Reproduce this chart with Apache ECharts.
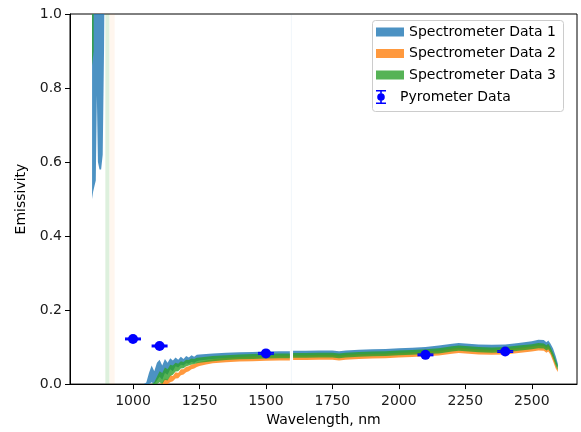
<!DOCTYPE html>
<html>
<head>
<meta charset="utf-8">
<script src="https://cdn.jsdelivr.net/npm/echarts@6/dist/echarts.min.js"></script>
<style>
  html, body { margin: 0; padding: 0; background: #ffffff; }
  #chart { width: 581px; height: 432px; }
</style>
</head>
<body>
<div id="chart"></div>
<script>
// Wavelength grid (nm) shared by the three spectrometer bands; null marks the detector gap.
const wavelength = [
  1040, 1050, 1060, 1070, 1080, 1090, 1100, 1110, 1120, 1130,
  1140, 1150, 1160, 1170, 1180, 1190, 1200, 1210, 1220, 1230,
  1240, 1250, 1275, 1300, 1350, 1400, 1450, 1500, 1550, 1590,
  1596, 1602, 1650, 1700, 1750, 1775, 1800, 1850, 1900, 1950,
  2000, 2050, 2100, 2150, 2200, 2225, 2250, 2300, 2350, 2400,
  2450, 2500, 2525, 2545, 2555, 2562, 2570, 2580, 2590, 2598
];

// Spectrometer Data 1 (lower / upper envelope)
const spec1Low = [
  0, 0, 0, 0.005, 0, 0.01, 0.02, 0.012, 0.03, 0.025,
  0.04, 0.035, 0.048, 0.045, 0.052, 0.05, 0.056, 0.055, 0.06, 0.058,
  0.062, 0.064, 0.066, 0.068, 0.07, 0.071, 0.072, 0.073, 0.074, 0.074,
  null, 0.075, 0.075, 0.076, 0.076, 0.074, 0.076, 0.078, 0.079, 0.08,
  0.082, 0.083, 0.085, 0.088, 0.093, 0.095, 0.094, 0.091, 0.09, 0.091,
  0.095, 0.1, 0.103, 0.102, 0.097, 0.1, 0.092, 0.075, 0.055, 0.045
];
const spec1High = [
  0, 0.004, 0.03, 0.05, 0.035, 0.058, 0.066, 0.05, 0.068, 0.058,
  0.07, 0.064, 0.072, 0.066, 0.074, 0.068, 0.076, 0.072, 0.078, 0.074,
  0.079, 0.08, 0.081, 0.083, 0.085, 0.086, 0.087, 0.088, 0.089, 0.089,
  null, 0.09, 0.09, 0.091, 0.091, 0.089, 0.091, 0.093, 0.094, 0.095,
  0.097, 0.098, 0.1, 0.104, 0.109, 0.111, 0.11, 0.107, 0.106, 0.107,
  0.111, 0.116, 0.12, 0.119, 0.113, 0.118, 0.11, 0.096, 0.075, 0.055
];

// Spectrometer Data 2
const spec2Low = [
  0, 0, 0, 0, 0, 0, 0, 0, 0, 0,
  0.005, 0.008, 0.015, 0.016, 0.024, 0.026, 0.032, 0.035, 0.04, 0.042,
  0.046, 0.049, 0.053, 0.056, 0.059, 0.061, 0.062, 0.063, 0.064, 0.064,
  null, 0.065, 0.065, 0.066, 0.066, 0.064, 0.066, 0.068, 0.069, 0.07,
  0.072, 0.073, 0.075, 0.077, 0.082, 0.084, 0.083, 0.08, 0.079, 0.08,
  0.084, 0.088, 0.091, 0.09, 0.085, 0.088, 0.08, 0.062, 0.042, 0.033
];
const spec2High = [
  0, 0, 0, 0, 0, 0, 0, 0.004, 0.015, 0.012,
  0.024, 0.022, 0.032, 0.03, 0.04, 0.04, 0.047, 0.048, 0.053, 0.054,
  0.058, 0.06, 0.064, 0.067, 0.071, 0.073, 0.075, 0.076, 0.077, 0.077,
  null, 0.078, 0.078, 0.079, 0.079, 0.077, 0.079, 0.081, 0.082, 0.083,
  0.085, 0.086, 0.088, 0.091, 0.096, 0.098, 0.097, 0.094, 0.093, 0.094,
  0.098, 0.102, 0.105, 0.104, 0.099, 0.103, 0.094, 0.078, 0.055, 0.04
];

// Spectrometer Data 3
const spec3Low = [
  0, 0, 0, 0, 0, 0, 0.005, 0, 0.012, 0.01,
  0.022, 0.025, 0.034, 0.035, 0.042, 0.043, 0.048, 0.05, 0.053, 0.054,
  0.056, 0.058, 0.06, 0.062, 0.065, 0.067, 0.068, 0.069, 0.07, 0.07,
  null, 0.071, 0.071, 0.072, 0.072, 0.07, 0.072, 0.074, 0.075, 0.076,
  0.078, 0.079, 0.081, 0.083, 0.088, 0.09, 0.089, 0.086, 0.085, 0.086,
  0.09, 0.094, 0.097, 0.096, 0.091, 0.094, 0.086, 0.07, 0.05, 0.038
];
const spec3High = [
  0, 0, 0, 0, 0.005, 0.02, 0.035, 0.03, 0.045, 0.04,
  0.052, 0.05, 0.058, 0.055, 0.062, 0.06, 0.066, 0.065, 0.069, 0.068,
  0.071, 0.072, 0.074, 0.076, 0.078, 0.08, 0.081, 0.082, 0.083, 0.083,
  null, 0.084, 0.084, 0.085, 0.085, 0.083, 0.085, 0.087, 0.088, 0.089,
  0.091, 0.092, 0.094, 0.097, 0.102, 0.104, 0.103, 0.1, 0.099, 0.1,
  0.104, 0.108, 0.111, 0.11, 0.105, 0.109, 0.1, 0.085, 0.065, 0.05
];

// Short-wavelength edge of the detector, where the signal blows up
const edgeNm = [846, 850, 855, 860, 864, 868, 874, 880, 886, 891, 895];
const edge1Low = [0.5, 0.52, 0.535, 0.55, 0.78, 0.6, 0.58, 0.58, 0.62, 0.9, 1.3];
const edge1High = [1.5, 1.5, 1.5, 1.5, 1.5, 1.5, 1.5, 1.5, 1.5, 1.5, 1.5];
const edge3Nm = [846, 852];
const edge3Low = [0.86, 0.9];
const edge3High = [1.5, 1.5];

// Isolated single-sample spikes spanning the whole range
const spike3Nm = [896, 911];
const spike2Nm = [912, 931];
const spike1Nm = [1594, 1598];
const spikeLow = [0, 0];
const spikeHigh = [1, 1];

// Pyrometer readings
const pyroNm = [1000, 1100, 1500, 2100, 2400];
const pyroValue = [0.122, 0.103, 0.083, 0.079, 0.088];
const pyroErr = [0.002, 0.002, 0.002, 0.002, 0.002];

// Axis ticks
const xTicks = [1000, 1250, 1500, 1750, 2000, 2250, 2500];

const FONT = 'DejaVu Sans';
const C1 = 'rgba(31,119,180,0.8)';
const C2 = 'rgba(255,127,14,0.8)';
const C3 = 'rgba(44,160,44,0.8)';

// Filled band between lower and upper curves, split at null entries
function bandRenderer(nm, lo, hi, fill) {
  return function (params, api) {
    if (params.dataIndex !== 0) return null;
    const children = [];
    let top = [], bottom = [];
    const flush = function () {
      if (top.length > 1) {
        children.push({
          type: 'polygon',
          shape: { points: top.concat(bottom.slice().reverse()) },
          style: { fill: fill, stroke: null }
        });
      }
      top = []; bottom = [];
    };
    for (let i = 0; i < nm.length; i++) {
      if (lo[i] == null || hi[i] == null) { flush(); continue; }
      top.push(api.coord([nm[i], hi[i]]));
      bottom.push(api.coord([nm[i], lo[i]]));
    }
    flush();
    const cs = params.coordSys;
    return {
      type: 'group',
      clipPath: { type: 'rect', shape: { x: cs.x, y: cs.y, width: cs.width, height: cs.height } },
      children: children
    };
  };
}

function bandSeries(name, nm, lo, hi, fill, z) {
  return {
    type: 'custom',
    name: name,
    coordinateSystem: 'cartesian2d',
    data: nm.map(function (x, i) { return [x, lo[i], hi[i]]; }),
    encode: { x: 0, y: [1, 2] },
    itemStyle: { color: fill },
    renderItem: bandRenderer(nm, lo, hi, fill),
    silent: true,
    z: z
  };
}

const chart = echarts.init(document.getElementById('chart'), null, { renderer: 'canvas' });

const option = {
  animation: false,
  backgroundColor: '#ffffff',
  grid: {
    left: 70, right: 4, top: 14, bottom: 46,
    show: true, borderColor: '#000000', borderWidth: 1, backgroundColor: 'transparent'
  },
  xAxis: {
    type: 'value',
    min: 763, max: 2670,
    name: 'Wavelength, nm',
    nameLocation: 'middle',
    nameGap: 28,
    nameTextStyle: { fontFamily: FONT, fontSize: 14, color: '#000' },
    axisLine: { show: true, lineStyle: { color: '#000', width: 1 } },
    axisTick: { show: true, length: 5, customValues: xTicks, lineStyle: { color: '#000' } },
    axisLabel: {
      customValues: xTicks, margin: 10,
      fontFamily: FONT, fontSize: 14, color: '#1a1a1a',
      formatter: function (v) { return String(Math.round(v)); }
    },
    splitLine: { show: false }
  },
  yAxis: {
    type: 'value',
    min: 0, max: 1, interval: 0.2,
    name: 'Emissivity',
    nameLocation: 'middle',
    nameGap: 38,
    nameTextStyle: { fontFamily: FONT, fontSize: 14, color: '#000' },
    axisLine: { show: true, lineStyle: { color: '#000', width: 1 } },
    axisTick: { show: true, length: 5, lineStyle: { color: '#000' } },
    axisLabel: {
      margin: 8, fontFamily: FONT, fontSize: 14, color: '#1a1a1a',
      formatter: function (v) { return v.toFixed(1); }
    },
    splitLine: { show: false }
  },
  legend: [
    {
      left: 376, top: 25, orient: 'vertical', padding: 0,
      itemGap: 7.5, itemWidth: 28, itemHeight: 9, itemTextGap: 12,
      icon: 'rect', selectedMode: false,
      data: ['Spectrometer Data 1', 'Spectrometer Data 2', 'Spectrometer Data 3'],
      textStyle: { fontFamily: FONT, fontSize: 14, color: '#000', lineHeight: 14 }
    },
    {
      left: 376, top: 90, orient: 'vertical', padding: 0,
      itemWidth: 28, itemHeight: 14, itemTextGap: 12, selectedMode: false,
      data: [{
        name: 'Pyrometer Data',
        icon: 'path://M0,0h10v1.6h-10Z M4.2,0h1.6v3.2h-1.6Z M4.2,10.8h1.6v3.2h-1.6Z M0,12.4h10v1.6h-10Z M1.2,7a3.8,3.8 0 1,0 7.6,0a3.8,3.8 0 1,0 -7.6,0Z'
      }],
      textStyle: { fontFamily: FONT, fontSize: 14, color: '#000', lineHeight: 14 }
    }
  ],
  graphic: [{
    type: 'rect', z: 3, silent: true,
    shape: { x: 372.5, y: 20.5, width: 191, height: 91, r: 3 },
    style: { fill: 'rgba(255,255,255,0.8)', stroke: '#cccccc', lineWidth: 1 }
  }],
  series: [
    bandSeries('Spectrometer Data 1', wavelength, spec1Low, spec1High, C1, 2),
    bandSeries('Spectrometer Data 1', edgeNm, edge1Low, edge1High, C1, 2),
    bandSeries('Spectrometer Data 1', spike1Nm, spikeLow, spikeHigh, 'rgba(31,119,180,0.06)', 2),
    bandSeries('Spectrometer Data 2', wavelength, spec2Low, spec2High, C2, 2),
    bandSeries('Spectrometer Data 2', spike2Nm, spikeLow, spikeHigh, 'rgba(255,127,14,0.07)', 2),
    bandSeries('Spectrometer Data 3', wavelength, spec3Low, spec3High, C3, 2),
    bandSeries('Spectrometer Data 3', edge3Nm, edge3Low, edge3High, C3, 2),
    bandSeries('Spectrometer Data 3', spike3Nm, spikeLow, spikeHigh, 'rgba(44,160,44,0.16)', 2),
    {
      type: 'custom',
      name: 'Pyrometer Data',
      coordinateSystem: 'cartesian2d',
      data: pyroNm.map(function (x, i) { return [x, pyroValue[i], pyroErr[i]]; }),
      encode: { x: 0, y: 1 },
      itemStyle: { color: '#0000ff' },
      z: 5,
      renderItem: function (params, api) {
        const x = api.value(0), y = api.value(1), e = api.value(2);
        const pt = api.coord([x, y + e]);
        const pb = api.coord([x, y - e]);
        const cap = 8;
        const st = { stroke: '#0000ff', lineWidth: 1.5 };
        return {
          type: 'group',
          children: [
            { type: 'line', shape: { x1: pt[0], y1: pt[1], x2: pb[0], y2: pb[1] }, style: st },
            { type: 'line', shape: { x1: pt[0] - cap, y1: pt[1], x2: pt[0] + cap, y2: pt[1] }, style: st },
            { type: 'line', shape: { x1: pb[0] - cap, y1: pb[1], x2: pb[0] + cap, y2: pb[1] }, style: st }
          ]
        };
      }
    },
    {
      type: 'scatter',
      name: 'Pyrometer Data',
      data: pyroNm.map(function (x, i) { return [x, pyroValue[i]]; }),
      symbol: 'circle',
      symbolSize: 10,
      itemStyle: { color: '#0000ff', opacity: 1 },
      z: 6
    }
  ]
};

chart.setOption(option);
</script>
</body>
</html>
